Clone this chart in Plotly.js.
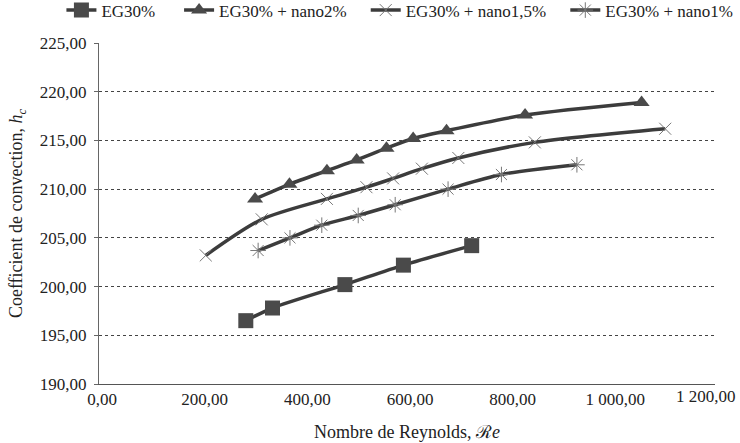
<!DOCTYPE html>
<html>
<head>
<meta charset="utf-8">
<script src="https://cdn.plot.ly/plotly-3.0.1.min.js"></script>
<style>html,body{margin:0;padding:0;background:#fff;}#chart{width:740px;height:443px;}</style>
</head>
<body>
<div id="chart"></div>
<script>
// Data
const seriesNames = ["EG30%", "EG30% + nano2%", "EG30% + nano1,5%", "EG30% + nano1%"];

const eg30_x = [286, 338, 479, 593, 726];
const eg30_y = [196.5, 197.8, 200.2, 202.2, 204.2];

const nano2_x = [304, 371, 444, 502, 560, 612, 677, 830, 1057];
const nano2_y = [209.0, 210.5, 211.9, 213.0, 214.2, 215.2, 216.0, 217.6, 218.9];

const nano15_x = [208, 317, 444, 521, 573, 629, 700, 849, 1103];
const nano15_y = [203.2, 206.9, 209.0, 210.2, 211.1, 212.1, 213.2, 214.8, 216.2];

const nano1_x = [310, 372, 434, 505, 577, 680, 784, 931];
const nano1_y = [203.7, 205.0, 206.3, 207.3, 208.4, 210.0, 211.5, 212.5];

const xTickVals = [0, 200, 400, 600, 800, 1000, 1200];
const xTickText = ["0,00", "200,00", "400,00", "600,00", "800,00", "1\u00a0000,00", "1\u00a0200,00"];
const yTickVals = [190, 195, 200, 205, 210, 215, 220, 225];
const yTickText = ["190,00", "195,00", "200,00", "205,00", "210,00", "215,00", "220,00", "225,00"];

const FONT = "'Liberation Serif', 'Times New Roman', Times, serif";
const lineCol = "#3c3c3c";

const traces = [
  {x: eg30_x, y: eg30_y, name: seriesNames[0], mode: "lines+markers", legend: "legend",
   line: {color: lineCol, width: 3.5, shape: "spline", smoothing: 0.8},
   marker: {symbol: "square", size: 15, color: "#4a4a4a"}},
  {x: nano2_x, y: nano2_y, name: seriesNames[1], mode: "lines+markers", legend: "legend2",
   line: {color: lineCol, width: 3.5, shape: "spline", smoothing: 0.8},
   marker: {symbol: "triangle-up", size: 14, color: "#4a4a4a"}},
  {x: nano15_x, y: nano15_y, name: seriesNames[2], mode: "lines+markers", legend: "legend3",
   line: {color: lineCol, width: 3.5, shape: "spline", smoothing: 0.8},
   marker: {symbol: "x-thin-open", size: 12, color: "#777", line: {width: 1, color: "#777"}}},
  {x: nano1_x, y: nano1_y, name: seriesNames[3], mode: "lines+markers", legend: "legend4",
   line: {color: lineCol, width: 3.5, shape: "spline", smoothing: 0.8},
   marker: {symbol: "asterisk-open", size: 13, color: "#777", line: {width: 1, color: "#777"}}}
];

// the last x tick label is pulled inside the picture, as in the reference
const tickTextShown = xTickText.slice(0, -1).concat([""]);

function legendAt(xp) {
  return {orientation: "h", x: xp, xanchor: "left", y: 1.148, yanchor: "top",
          font: {family: FONT, size: 17, color: "#222"},
          bgcolor: "rgba(0,0,0,0)", borderwidth: 0};
}

const layout = {
  width: 740, height: 443,
  margin: {l: 99, r: 25, t: 43, b: 59, autoexpand: false},
  paper_bgcolor: "#fff", plot_bgcolor: "#fff",
  font: {family: FONT, size: 16, color: "#222"},
  showlegend: true,
  legend: legendAt(-0.061),
  legend2: legendAt(0.130),
  legend3: legendAt(0.433),
  legend4: legendAt(0.757),
  xaxis: {
    range: [0, 1200], tickvals: xTickVals, ticktext: tickTextShown,
    showgrid: false, zeroline: false,
    showline: true, linecolor: "#555", linewidth: 1,
    ticks: "", ticklabelshift: 3, tickfont: {family: FONT, size: 17, color: "#222"},
    title: {text: "Nombre de Reynolds, \u211B<i>e</i>", font: {family: FONT, size: 18, color: "#222"}, standoff: 16},
    automargin: false, fixedrange: true
  },
  yaxis: {
    range: [190, 225], tickvals: yTickVals, ticktext: yTickText,
    showgrid: true, gridcolor: "#444", griddash: "dot", gridwidth: 1,
    zeroline: false, showline: true, linecolor: "#666", linewidth: 1,
    ticks: "outside", ticklen: 4, tickcolor: "#666",
    ticklabelstandoff: 4,
    tickfont: {family: FONT, size: 17, color: "#222"},
    title: {text: "Coefficient de convection, <i>h<sub>c</sub></i>", font: {family: FONT, size: 18, color: "#222"}, standoff: 12},
    automargin: false, fixedrange: true
  },
  annotations: [{
    text: xTickText[xTickText.length - 1], xref: "paper", yref: "paper",
    x: (738 - 99) / 616, y: 0, xanchor: "right", yanchor: "middle", yshift: -12,
    showarrow: false, font: {family: FONT, size: 17, color: "#222"}
  }]
};

Plotly.newPlot("chart", traces, layout, {displayModeBar: false, staticPlot: true});
</script>
</body>
</html>
